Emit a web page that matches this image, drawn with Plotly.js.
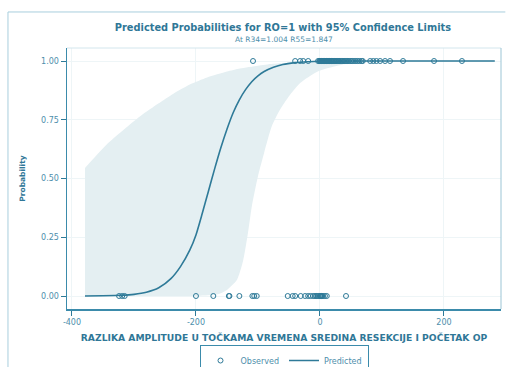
<!DOCTYPE html>
<html><head><meta charset="utf-8">
<script src="https://cdn.plot.ly/plotly-3.0.1.min.js"></script>
<style>html,body{margin:0;padding:0;background:#fff;}#chart{width:508px;height:367px;}</style>
</head><body><div id="chart"></div>
<script>
// Predicted probability curve
const predX = [-379, -350, -320, -300, -280, -260, -240, -225, -210, -200, -190, -180, -170, -160, -150, -140, -130, -120, -110, -100, -90, -75, -60, -40, -20, 0, 50, 100, 200, 282];
const predP = [0.0003, 0.001, 0.003, 0.007, 0.016, 0.035, 0.075, 0.125, 0.195, 0.26, 0.35, 0.445, 0.54, 0.63, 0.71, 0.78, 0.835, 0.878, 0.912, 0.937, 0.955, 0.973, 0.985, 0.993, 0.997, 0.999, 1, 1, 1, 1];
// 95% confidence limits
const upperX = [-379, -360, -344, -320, -290, -260, -237, -210, -182, -150, -129, -100, -76, -40, 0, 50, 282];
const upperP = [0.545, 0.60, 0.645, 0.70, 0.765, 0.82, 0.86, 0.90, 0.93, 0.955, 0.968, 0.98, 0.988, 0.995, 0.999, 1, 1];
const lowerX = [-379, -250, -200, -170, -160, -150, -134, -124, -116, -110, -100, -90, -78, -65, -50, -32, -5, 21, 48, 100, 200, 282];
const lowerP = [0, 0, 0.0005, 0.005, 0.012, 0.026, 0.068, 0.15, 0.27, 0.38, 0.51, 0.61, 0.72, 0.79, 0.85, 0.906, 0.953, 0.975, 0.99, 0.998, 1, 1];
// Observed outcomes (RO = 0)
const obs0X = [-324, -319, -315, -200, -172, -147, -146, -130, -109, -106, -102, -52, -44, -40, -31, -24, -19, -15, -11, -8, -6, -4, -2, 0, 1, 2, 3, 5, 8, 11, 42];
// Observed outcomes (RO = 1)
const obs1X = [-108, -40, -32, -27, -19, -3, -1, 0, 1, 2, 3, 4, 5, 6, 7, 8, 9, 10, 11, 12, 13, 14, 15, 16, 18, 19, 20, 22, 23, 25, 26, 28, 30, 31, 33, 35, 37, 39, 41, 43, 45, 47, 50, 52, 55, 58, 61, 64, 67, 69, 81, 86, 91, 97, 105, 113, 134, 184, 229];
const xTicks = [-400, -200, 0, 200];
const yTicks = [0, 0.25, 0.5, 0.75, 1];
const yTickText = ['0.00', '0.25', '0.50', '0.75', '1.00'];
const titleText = 'Predicted Probabilities for RO=1 with 95% Confidence Limits';
const subtitleText = 'At R34=1.004 R55=1.847';

const teal = '#2e7a98';
const textCol = '#4d8eab';
const font = 'DejaVu Sans, sans-serif';

const bandX = upperX.concat(lowerX.slice().reverse());
const bandY = upperP.concat(lowerP.slice().reverse());

const traces = [
  {x: bandX, y: bandY, type: 'scatter', mode: 'lines', fill: 'toself', fillcolor: '#e4eff2', line: {width: 0, color: 'rgba(0,0,0,0)', shape: 'spline', smoothing: 0.6}, hoverinfo: 'skip', showlegend: false},
  {x: obs0X.concat(obs1X), y: obs0X.map(() => 0).concat(obs1X.map(() => 1)), type: 'scatter', mode: 'markers', name: 'Observed',
   marker: {symbol: 'circle-open', size: 5, color: teal, line: {width: 1, color: teal}}},
  {x: predX, y: predP, type: 'scatter', mode: 'lines', name: 'Predicted', line: {color: teal, width: 1.6, shape: 'spline', smoothing: 0.6}}
];

const layout = {
  width: 508, height: 367,
  margin: {l: 67, r: 7, t: 48, b: 58, autoexpand: false},
  paper_bgcolor: '#fff', plot_bgcolor: '#fff',
  font: {family: font, size: 8, color: textCol},
  title: {text: titleText, x: 0.557, xanchor: 'center', y: 0.924, yanchor: 'middle', yref: 'container',
          font: {family: font, size: 9.8, color: '#2f7797', weight: 'bold'}},
  annotations: [
    {text: subtitleText, xref: 'paper', yref: 'paper', x: 0.5, y: 1.031, xanchor: 'center', yanchor: 'middle', showarrow: false,
     font: {family: font, size: 7.5, color: textCol}}
  ],
  xaxis: {range: [-408, 292], tickvals: xTicks, ticktext: xTicks.map(String), ticks: 'outside', ticklen: 5, tickcolor: teal,
          showline: true, linecolor: '#3b8bab', linewidth: 1.5, zeroline: false, showgrid: true, gridcolor: '#eef5f7',
          tickfont: {size: 8, color: textCol}, automargin: false,
          title: {text: 'RAZLIKA AMPLITUDE U TOČKAMA VREMENA SREDINA RESEKCIJE I POČETAK OP', standoff: 8, font: {family: font, size: 9.2, color: '#2f7797', weight: 'bold'}}},
  yaxis: {range: [-0.0553, 1.0553], tickvals: yTicks, ticktext: yTickText, ticks: 'outside', ticklen: 5, tickcolor: teal,
          showline: true, linecolor: '#3b8bab', linewidth: 1.5, zeroline: false, showgrid: true, gridcolor: '#eef5f7',
          tickfont: {size: 8, color: textCol}, automargin: false,
          title: {text: 'Probability', standoff: 14, font: {family: font, size: 7.5, color: '#2f7797', weight: 'bold'}}},
  showlegend: true,
  legend: {orientation: 'h', x: 0.5, xanchor: 'center', y: -0.138, yanchor: 'top', bordercolor: '#3b8bab', borderwidth: 1,
           font: {size: 8, color: textCol}, tracegroupgap: 0, itemwidth: 30},
  shapes: [
    {type: 'line', xref: 'paper', yref: 'paper', x0: 0, x1: 1, y0: 1, y1: 1, line: {color: '#d3e6ed', width: 1}},
    {type: 'line', xref: 'paper', yref: 'paper', x0: 1, x1: 1, y0: 0, y1: 1, line: {color: '#9cc5d5', width: 1}},
    {type: 'line', xref: 'paper', yref: 'paper', x0: -0.136, x1: 1.01, y0: 1.138, y1: 1.138, line: {color: '#a9cfdd', width: 1}},
    {type: 'line', xref: 'paper', yref: 'paper', x0: -0.136, x1: -0.136, y0: 1.138, y1: -0.25, line: {color: '#a9cfdd', width: 1}}
  ]
};
Plotly.newPlot('chart', traces, layout, {staticPlot: true, displayModeBar: false});
</script></body></html>
